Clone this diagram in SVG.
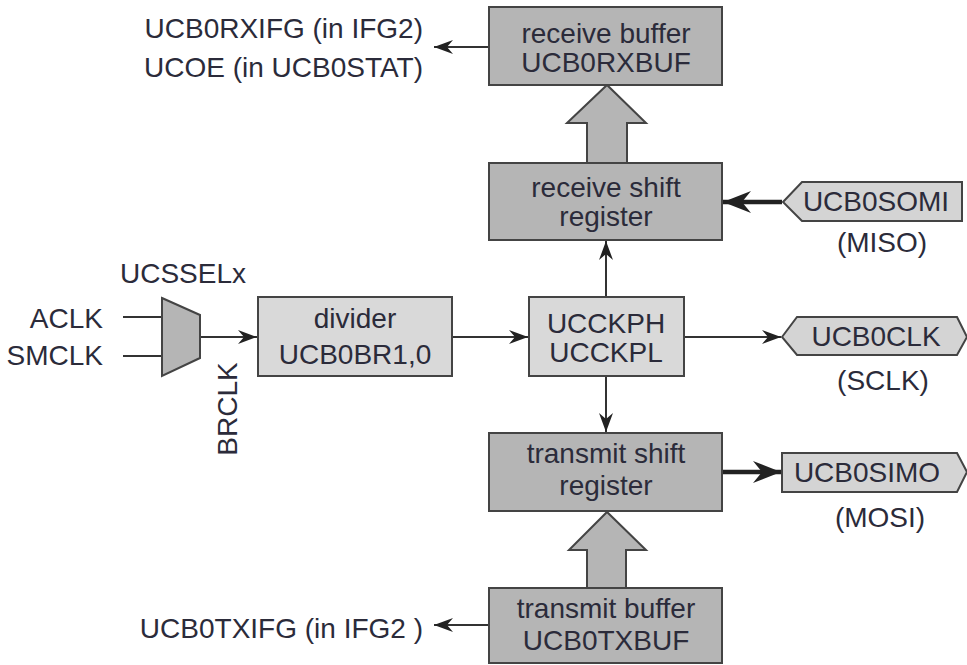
<svg xmlns="http://www.w3.org/2000/svg" width="967" height="665" viewBox="0 0 967 665">
  <style>
    text { font-family: "Liberation Sans", Arial, sans-serif; font-size: 28px; fill: #2b2b3a; }
    .mid { text-anchor: middle; }
    .end { text-anchor: end; }
    .dark { fill: #b5b5b5; stroke: #444; stroke-width: 2; }
    .light { fill: #d9d9d9; stroke: #444; stroke-width: 2; }
    .pin { fill: #d4d4d4; stroke: #444; stroke-width: 2; }
    .wire { fill: none; stroke: #333; stroke-width: 2; }
    .bus { fill: none; stroke: #222; stroke-width: 4.5; }
  </style>
  <defs>
    <marker id="arr" markerUnits="userSpaceOnUse" viewBox="-20 -8 22 16" refX="0" refY="0" markerWidth="22" markerHeight="16" orient="auto">
      <path d="M0,0 L-19,-7 L-13,0 L-19,7 Z" fill="#222"/>
    </marker>
    <marker id="arrBig" markerUnits="userSpaceOnUse" viewBox="-30 -12 32 24" refX="0" refY="0" markerWidth="32" markerHeight="24" orient="auto">
      <path d="M0,0 L-28,-11 L-19,0 L-28,11 Z" fill="#222"/>
    </marker>
  </defs>

  <g id="connectors">
    <line class="wire" x1="489" y1="47" x2="434" y2="47" marker-end="url(#arr)"/>
    <line class="wire" x1="489" y1="625" x2="434" y2="625" marker-end="url(#arr)"/>
    <line class="wire" x1="123" y1="317" x2="162" y2="317"/>
    <line class="wire" x1="123" y1="356" x2="162" y2="356"/>
    <line class="wire" x1="200" y1="337" x2="257" y2="337" marker-end="url(#arr)"/>
    <line class="wire" x1="452" y1="337" x2="528" y2="337" marker-end="url(#arr)"/>
    <line class="wire" x1="684" y1="337" x2="781" y2="337" marker-end="url(#arr)"/>
    <line class="wire" x1="606" y1="297" x2="606" y2="241" marker-end="url(#arr)"/>
    <line class="wire" x1="606" y1="376" x2="606" y2="432" marker-end="url(#arr)"/>
    <line class="bus" x1="782" y1="202" x2="723" y2="202" marker-end="url(#arrBig)"/>
    <line class="bus" x1="722" y1="472" x2="781" y2="472" marker-end="url(#arrBig)"/>
    <!-- wide data-path arrows between shift registers and buffers -->
    <path class="dark" d="M587,163 L587,123 L567,123 L607,85 L646,123 L627,123 L627,163 Z"/>
    <path class="dark" d="M587,588 L587,550 L569,550 L607,512 L646,550 L626,550 L626,588 Z"/>
  </g>

  <g id="rx-flags">
    <text class="end" x="423" y="38">UCB0RXIFG (in IFG2)</text>
    <text class="end" x="423" y="77">UCOE (in UCB0STAT)</text>
  </g>

  <g id="rx-buffer">
    <rect class="dark" x="489" y="7" width="233" height="78"/>
    <text class="mid" x="606" y="43">receive buffer</text>
    <text class="mid" x="606" y="72">UCB0RXBUF</text>
  </g>

  <g id="rx-shift">
    <rect class="dark" x="489" y="163" width="233" height="77"/>
    <text class="mid" x="606" y="197">receive shift</text>
    <text class="mid" x="606" y="226">register</text>
  </g>

  <g id="somi">
    <path class="pin" d="M783,202 L802,182 L962,182 L962,221 L802,221 Z"/>
    <text class="mid" x="876" y="211">UCB0SOMI</text>
    <text class="mid" x="882" y="252">(MISO)</text>
  </g>

  <g id="clk-select">
    <text x="120" y="283">UCSSELx</text>
    <text class="end" x="103" y="328">ACLK</text>
    <text class="end" x="103" y="365">SMCLK</text>
    <path class="dark" d="M162,298 L200,315 L200,358 L162,376 Z"/>
    <text class="mid" transform="rotate(-90 237 409)" x="237" y="409">BRCLK</text>
  </g>

  <g id="divider">
    <rect class="light" x="258" y="297" width="194" height="79"/>
    <text class="mid" x="355" y="328">divider</text>
    <text class="mid" x="355" y="364">UCB0BR1,0</text>
  </g>

  <g id="clk-phase">
    <rect class="light" x="529" y="297" width="155" height="79"/>
    <text class="mid" x="606" y="333">UCCKPH</text>
    <text class="mid" x="606" y="362">UCCKPL</text>
  </g>

  <g id="sclk">
    <path class="pin" d="M782,337 L797,317 L957,317 L967,337 L957,355 L797,355 Z"/>
    <text class="mid" x="876" y="346">UCB0CLK</text>
    <text class="mid" x="883" y="390">(SCLK)</text>
  </g>

  <g id="tx-shift">
    <rect class="dark" x="489" y="433" width="233" height="78"/>
    <text class="mid" x="606" y="463">transmit shift</text>
    <text class="mid" x="606" y="495">register</text>
  </g>

  <g id="simo">
    <path class="pin" d="M782,453 L957,453 L967,472 L957,492 L782,492 Z"/>
    <text class="mid" x="867" y="482">UCB0SIMO</text>
    <text class="mid" x="880" y="527">(MOSI)</text>
  </g>

  <g id="tx-buffer">
    <rect class="dark" x="489" y="588" width="233" height="75"/>
    <text class="mid" x="606" y="618">transmit buffer</text>
    <text class="mid" x="606" y="650">UCB0TXBUF</text>
  </g>

  <g id="tx-flag">
    <text class="end" x="423" y="638">UCB0TXIFG (in IFG2 )</text>
  </g>
</svg>
